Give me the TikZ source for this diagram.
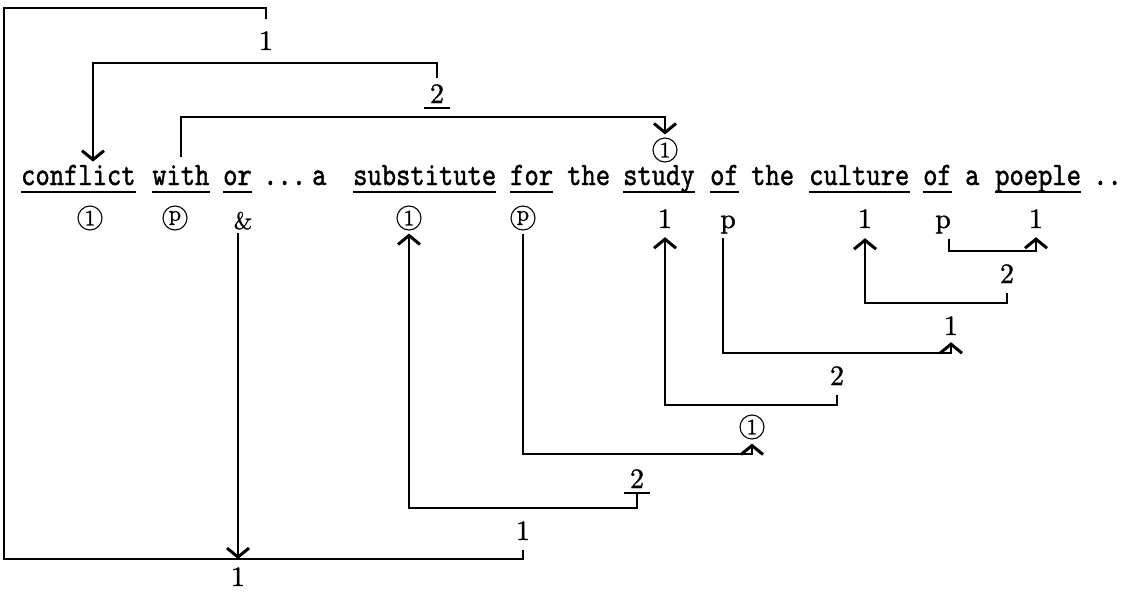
\documentclass[tikz,border=0pt]{standalone}
\usepackage{fontspec}
\usepackage{graphicx}
\usetikzlibrary{arrows.meta}
\newfontfamily\sentfont{lmmono10-regular.otf}[FakeBold=1.4]
\newfontfamily\labfont{lmroman10-regular.otf}[FakeBold=1.2]
\newcommand\tallword[1]{\scalebox{1}[1.2]{#1}}
\begin{document}
\begin{tikzpicture}[x=1pt,y=-1pt,
  ln/.style={line width=1.5pt},
  arr/.style={ln,-{Straight Barb[length=9pt,width=22pt,line width=3pt]}},
  word/.style={inner sep=0pt,anchor=base west,font=\fontsize{27.24}{30}\sentfont},
  ul/.style={line width=1.6pt},
  lab/.style={inner sep=0pt,anchor=base,font=\fontsize{28}{28}\labfont},
  circ/.style={circle,draw,line width=1.1pt,minimum size=24pt,inner sep=0pt,font=\fontsize{22}{22}\labfont}]
\useasboundingbox (0,0) rectangle (1133,592);
% sentence
\node[word] (w1) at (21,185) {\tallword{conflict}};
\node[word] (w2) at (152,185) {\tallword{with}};
\node[word] (w3) at (223,185) {\tallword{or}};
\node[word] (w4) at (263,185) {\tallword{...}};
\node[word] (w5) at (312,185) {\tallword{a}};
\node[word] (w6) at (353,185) {\tallword{substitute}};
\node[word] (w7) at (510,185) {\tallword{for}};
\node[word] (w8) at (567,185) {\tallword{the}};
\node[word] (w9) at (623,185) {\tallword{study}};
\node[word] (w10) at (710,185) {\tallword{of}};
\node[word] (w11) at (751,185) {\tallword{the}};
\node[word] (w12) at (809,185) {\tallword{culture}};
\node[word] (w13) at (923,185) {\tallword{of}};
\node[word] (w14) at (965,185) {\tallword{a}};
\node[word] (w15) at (995,185) {\tallword{poeple}};
\node[word] (w16) at (1093,185) {\tallword{..}};
\foreach \w in {w1,w2,w3,w6,w7,w9,w10,w12,w13,w15}
  \draw[ul] ([yshift=-7pt]\w.base west) -- ([yshift=-7pt]\w.base east);
% labels under the words
\node[circ] (u1) at (90,218) {1};
\node[circ] (u2) at (175,218) {p};
\node[lab,font=\fontsize{24}{24}\labfont] (u3) at (243,229) {\&};
\node[circ] (u6) at (409,218) {1};
\node[circ] (u7) at (523,218) {p};
\node[lab] (u9) at (665,228) {1};
\node[lab] (u10) at (728,228) {p};
\node[lab] (u12) at (865,228) {1};
\node[lab] (u13) at (943,228) {p};
\node[lab] (u15) at (1036,228) {1};
% label above study
\node[circ] (a9) at (665,150) {1};
% top labels
\node[lab] (t1) at (266,50) {1};
\node[lab] (t2) at (437,103) {2};
\draw[ul] ([xshift=-6pt,yshift=-5pt]t2.base west) -- ([xshift=6pt,yshift=-5pt]t2.base east);
% bottom labels
\node[lab] (b1) at (951,335) {1};
\node[lab] (b2) at (1007,283) {2};
\node[lab] (b3) at (837,385) {2};
\node[circ] (b4) at (752,427) {1};
\node[lab] (b5) at (637,488) {2};
\draw[ul] ([xshift=-6pt,yshift=-5pt]b5.base west) -- ([xshift=6pt,yshift=-5pt]b5.base east);
\node[lab] (b6) at (523,540) {1};
\node[lab] (b7) at (238,586) {1};
% corner coordinates
\coordinate (cTL) at (4,8);
\coordinate (cBL) at (4,559);
\coordinate (cT2) at (93,63);
\coordinate (cW) at (665,117);
\coordinate (k5) at (409,508);
\coordinate (k6) at (752,454);
\coordinate (k7) at (665,405);
\coordinate (k8) at (951,353);
\coordinate (k9) at (865,303);
\coordinate (k10) at (1036,251);
\coordinate (ampx) at ([xshift=-5pt]u3.south);
\coordinate (b5ul) at ([yshift=-5pt]b5.base);
\coordinate (px) at ([xshift=-5pt]u10.south);
\coordinate (px2) at ([xshift=6pt]u13.south);
% connectors
\draw[ln,shorten <=12pt,shorten >=10pt] (t1.north) |- (cTL) -- (cBL) -| (b6.south);
\draw[arr,shorten <=3pt] (ampx) -- (ampx |- cBL);
\draw[arr,shorten <=6pt,shorten >=3pt] (t2.north) |- (cT2) -- (cT2 |- w1.north);
\draw[arr,shorten <=8pt,shorten >=3pt] (w2.north) |- (cW) -- (a9.north);
\draw[arr,shorten >=3pt] (b5ul) |- (k5) -- (u6.south);
\draw[arr,shorten <=3pt,shorten >=4pt] (u7.south) |- (k6) -- (b4.south);
\draw[arr,shorten <=10pt,shorten >=9pt] (b3.south) |- (k7) -- (u9.south);
\draw[arr,shorten <=4pt,shorten >=7pt] (px) |- (k8) -- (b1.south);
\draw[arr,shorten <=10pt,shorten >=10pt] (b2.south) |- (k9) -- (u12.south);
\draw[arr,shorten <=5pt,shorten >=9pt] (px2) |- (k10) -- (u15.south);
\end{tikzpicture}
\end{document}
